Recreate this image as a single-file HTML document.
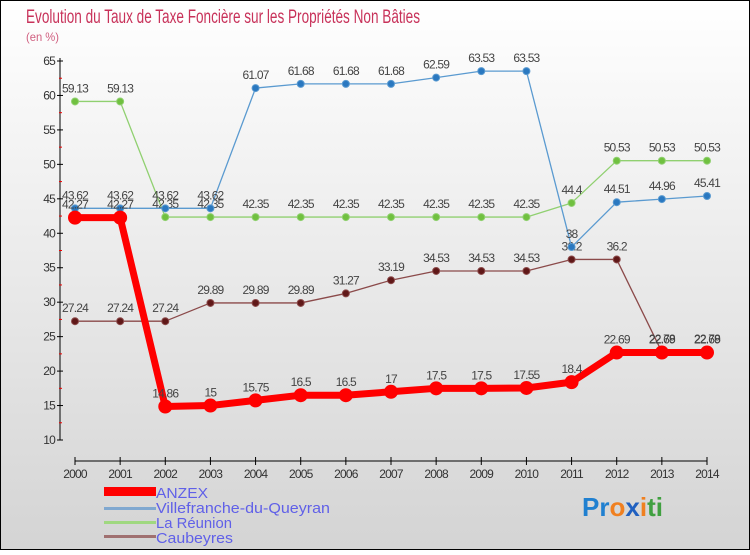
<!DOCTYPE html>
<html><head><meta charset="utf-8"><style>
html,body{margin:0;padding:0}
body{width:750px;height:550px;overflow:hidden;font-family:"Liberation Sans",sans-serif}
svg text{font-family:"Liberation Sans",sans-serif}
</style></head><body>
<svg id="chart" width="750" height="550" xmlns="http://www.w3.org/2000/svg">
<defs><linearGradient id="bg" x1="0" y1="0" x2="0" y2="1"><stop offset="0" stop-color="#ffffff"/><stop offset="1" stop-color="#d4d4d4"/></linearGradient></defs>
<rect x="0.5" y="0.5" width="749" height="549" fill="url(#bg)" stroke="#000"/>
<text x="26" y="23" font-size="19" fill="#c8325a" textLength="394" lengthAdjust="spacingAndGlyphs">Evolution du Taux de Taxe Foncière sur les Propriétés Non Bâties</text>
<text x="26" y="41" font-size="12" fill="#d06080" textLength="33" lengthAdjust="spacingAndGlyphs">(en %)</text>
<g id="axes"></g><g id="series"></g>
<g>
<rect x="104" y="487" width="52" height="9" fill="#f00"/>
<text x="156" y="498" font-size="15" fill="#6060e8" textLength="52" lengthAdjust="spacingAndGlyphs">ANZEX</text>
<rect x="104" y="507" width="52" height="3" fill="#80a8d0"/>
<text x="156" y="513" font-size="15" fill="#6060e8" textLength="174" lengthAdjust="spacingAndGlyphs">Villefranche-du-Queyran</text>
<rect x="104" y="521" width="52" height="3" fill="#a0d880"/>
<text x="156" y="528" font-size="15" fill="#6060e8" textLength="76" lengthAdjust="spacingAndGlyphs">La Réunion</text>
<rect x="104" y="535" width="52" height="3" fill="#a07070"/>
<text x="156" y="543" font-size="15" fill="#6060e8" textLength="77" lengthAdjust="spacingAndGlyphs">Caubeyres</text>
</g>
<text x="582" y="516" font-size="26" font-weight="bold"><tspan fill="#2080d0">Pr</tspan><tspan fill="#f08020">o</tspan><tspan fill="#2060c0">x</tspan><tspan fill="#f08020">i</tspan><tspan fill="#40a040">ti</tspan></text>
</svg>
<script>
const years=[2000,2001,2002,2003,2004,2005,2006,2007,2008,2009,2010,2011,2012,2013,2014];
const yTicks=[10,15,20,25,30,35,40,45,50,55,60,65];
const anzex=[42.27,42.27,14.86,15,15.75,16.5,16.5,17,17.5,17.5,17.55,18.4,22.69,22.69,22.69];
const villefranche=[43.62,43.62,43.62,43.62,61.07,61.68,61.68,61.68,62.59,63.53,63.53,38,44.51,44.96,45.41];
const reunion=[59.13,59.13,42.35,42.35,42.35,42.35,42.35,42.35,42.35,42.35,42.35,44.4,50.53,50.53,50.53];
const caubeyres=[27.24,27.24,27.24,29.89,29.89,29.89,31.27,33.19,34.53,34.53,34.53,36.2,36.2,22.78,22.78];
const NS="http://www.w3.org/2000/svg";
const xs=i=>75+i*(707-75)/(years.length-1);
const ys=v=>440-(v-10)*(440-61)/55;
function mk(p,t,a){const e=document.createElementNS(NS,t);for(const k in a)e.setAttribute(k,a[k]);p.appendChild(e);return e;}
const ax=document.getElementById('axes');
let l=mk(ax,'line',{x1:60,y1:58,x2:60,y2:440,stroke:'#000'});


yTicks.forEach(v=>{const y=ys(v);
 mk(ax,'line',{x1:57,y1:y,x2:63,y2:y,stroke:'#000'});
 if(v<65)mk(ax,'line',{x1:59,y1:ys(v+2.5),x2:62,y2:ys(v+2.5),stroke:'#e00'});
 const t=mk(ax,'text',{x:55,y:y+4,'font-size':12,'text-anchor':'end',fill:'#333','letter-spacing':'-0.8'});t.textContent=v;
 
 });
l=mk(ax,'line',{x1:75,y1:461,x2:707,y2:461,stroke:'#000'});


years.forEach((yr,i)=>{const x=xs(i);mk(ax,'line',{x1:x,y1:457,x2:x,y2:465,stroke:'#000'});
 const t=mk(ax,'text',{x:x,y:478,'font-size':12,'text-anchor':'middle',fill:'#333','letter-spacing':'-0.8'});t.textContent=yr;
 
 });
const sg=document.getElementById('series');
function draw(name,data,color,dot,w,r){
 const g=mk(sg,'g',{});
 
 
 mk(g,'polyline',{points:data.map((v,i)=>xs(i)+','+ys(v)).join(' '),fill:'none',stroke:color,'stroke-width':w,'stroke-linejoin':'round'});
 data.forEach((v,i)=>{const c=mk(g,'circle',{cx:xs(i),cy:ys(v),r:r,fill:dot,stroke:color,'stroke-width':1});
  
  
  const t=mk(g,'text',{x:xs(i),y:ys(v)-9,'font-size':12,'text-anchor':'middle',fill:'#444','letter-spacing':'-0.8'});t.textContent=v;
  
  });
}
draw('caubeyres',caubeyres,'#8b4a4a','#601818',1.3,3.5);
draw('la-reunion',reunion,'#90d070','#70c040',1.3,3.5);
draw('villefranche',villefranche,'#5a9ad0','#2a78c0',1.3,3.5);
draw('anzex',anzex,'#f00','#f00',7,6.5);
</script>
</body></html>
